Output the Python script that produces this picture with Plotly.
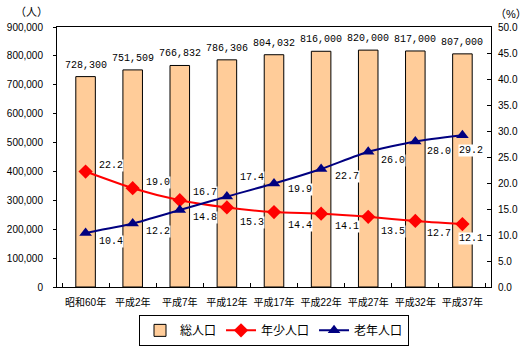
import plotly.graph_objects as go

categories = ["昭和60年", "平成2年", "平成7年", "平成12年", "平成17年",
              "平成22年", "平成27年", "平成32年", "平成37年"]
total_pop = [728300, 751509, 766832, 786306, 804032, 816000, 820000, 817000, 807000]
young_pct = [22.2, 19.0, 16.7, 15.3, 14.4, 14.1, 13.5, 12.7, 12.1]
old_pct = [10.4, 12.2, 14.8, 17.4, 19.9, 22.7, 26.0, 28.0, 29.2]

# label offsets (pixels) for line data labels
young_off = [(25, 6), (25, 6), (25, 8), (25, -15), (26, -13), (26, -13), (25, -15), (24, -13), (9, -14)]
old_off = [(25, -9), (25, -8), (25, -7), (25, 19), (26, -6), (26, -8), (25, -9), (24, -10), (9, -15)]

NUM_FONT = "Liberation Sans, Arial, sans-serif"
CJK_FONT = "Liberation Sans, Noto Sans CJK JP, sans-serif"
MONO_FONT = "Liberation Mono, DejaVu Sans Mono, monospace"

fig = go.Figure()
fig.add_trace(go.Bar(
    x=categories, y=total_pop, name="総人口",
    marker=dict(color="#FFCC99", line=dict(color="#000000", width=1)),
    yaxis="y",
))
fig.add_trace(go.Scatter(
    x=categories, y=young_pct, name="年少人口", mode="lines+markers",
    line=dict(color="#FF0000", width=2, shape="spline", smoothing=0.6),
    marker=dict(symbol="diamond", size=11, color="#FF0000"),
    yaxis="y2",
))
fig.add_trace(go.Scatter(
    x=categories, y=old_pct, name="老年人口", mode="lines+markers",
    line=dict(color="#000080", width=2, shape="spline", smoothing=0.6),
    marker=dict(symbol="triangle-up", size=11, color="#000080"),
    yaxis="y2",
))

annotations = []
for c, v in zip(categories, total_pop):
    annotations.append(dict(
        x=c, y=v, xref="x", yref="y", text=f"{v:,}", showarrow=False,
        yanchor="bottom", yshift=4, font=dict(family=MONO_FONT, size=10, color="#000000"),
    ))
for series, offs in ((young_pct, young_off), (old_pct, old_off)):
    for c, v, (dx, dy) in zip(categories, series, offs):
        annotations.append(dict(
            x=c, y=v, xref="x", yref="y2", text=f"{v:.1f}", showarrow=False,
            xshift=dx, yshift=dy, bgcolor="#FFFFFF", borderpad=0,
            font=dict(family=MONO_FONT, size=10, color="#000000"),
        ))
annotations.append(dict(x=0, y=1.0, xref="paper", yref="paper", text="（人）", showarrow=False,
                        xanchor="center", yanchor="middle", xshift=-26, yshift=15,
                        font=dict(family=CJK_FONT, size=11, color="#000000")))
annotations.append(dict(x=1.0, y=1.0, xref="paper", yref="paper", text="（%）", showarrow=False,
                        xanchor="center", yanchor="middle", xshift=20, yshift=13,
                        font=dict(family=CJK_FONT, size=11, color="#000000")))

fig.update_layout(
    width=529, height=346,
    margin=dict(l=57, r=38, t=27, b=59, autoexpand=False),
    paper_bgcolor="#FFFFFF", plot_bgcolor="#FFFFFF",
    bargap=0.585,
    showlegend=True,
    legend=dict(
        orientation="h", x=0.5, xanchor="center",
        yref="container", y=0.09, yanchor="top",
        bordercolor="#000000", borderwidth=1,
        font=dict(family=CJK_FONT, size=12, color="#000000"),
        traceorder="normal", itemwidth=30, tracegroupgap=0,
    ),
    xaxis=dict(
        type="category", showline=True, linecolor="#000000", linewidth=1, mirror=True,
        ticks="inside", tickson="boundaries", ticklen=4, tickcolor="#000000",
        tickangle=0, automargin=False, ticklabelstandoff=6,
        showgrid=False, tickfont=dict(family=CJK_FONT, size=10, color="#000000"),
    ),
    yaxis=dict(
        range=[0, 900000], dtick=100000, tickformat=",", showline=True,
        linecolor="#000000", linewidth=1, ticks="outside", ticklen=3, tickcolor="#000000",
        showgrid=False, zeroline=False, automargin=False, ticklabelstandoff=8,
        tickfont=dict(family=NUM_FONT, size=10, color="#000000"),
    ),
    yaxis2=dict(
        range=[0, 50], dtick=5, tickformat=".1f", overlaying="y", side="right",
        showline=True, linecolor="#000000", linewidth=1, ticks="inside", ticklen=4,
        tickcolor="#000000", showgrid=False, zeroline=False, automargin=False,
        ticklabelstandoff=4,
        tickfont=dict(family=NUM_FONT, size=10, color="#000000"),
    ),
    annotations=annotations,
)

fig.write_html("out.html")
